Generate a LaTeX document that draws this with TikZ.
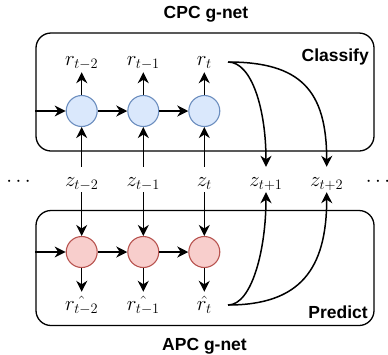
\documentclass[tikz,border=0pt]{standalone}
\usepackage{fontspec}
\setmainfont{Liberation Sans}
\usetikzlibrary{arrows.meta}
\definecolor{bluefill}{HTML}{DAE8FC}
\definecolor{bluedraw}{HTML}{6C8EBF}
\definecolor{redfill}{HTML}{F8CECC}
\definecolor{reddraw}{HTML}{B85450}
\begin{document}
\begin{tikzpicture}[x=1pt,y=-1pt,
  arr/.style={line width=1.5pt,-{Stealth[length=11pt,width=11pt,inset=3.5pt]}},
  bcell/.style={circle,draw=bluedraw,fill=bluefill,line width=1.1pt,minimum size=31pt,inner sep=0pt},
  rcell/.style={circle,draw=reddraw,fill=redfill,line width=1.1pt,minimum size=31pt,inner sep=0pt},
  gbox/.style={draw,line width=1.3pt,rounded corners=15pt,minimum width=338pt,inner sep=0pt},
  lbl/.style={inner sep=0pt,font=\fontsize{21}{24}\selectfont,anchor=base},
  rtop/.style={lbl,text height=11pt,text depth=7pt},
  zlab/.style={lbl,text height=19pt,text depth=6pt},
  rbot/.style={lbl,text height=18pt,text depth=8pt},
  ttl/.style={font=\fontsize{17.5}{20}\selectfont\bfseries,inner sep=0pt}
]
\useasboundingbox (0,0) rectangle (388,354);
% boxes
\node[gbox,minimum height=118pt] (cpc) at (205,92) {};
\node[gbox,minimum height=115pt] (apc) at (205,268) {};
% titles
\node[ttl,anchor=base] (tcpc) at (206,18.5) {CPC g-net};
\node[ttl,anchor=base] (tapc) at (204.5,350) {APC g-net};
\node[ttl,anchor=base east] (tcls) at (369,61) {Classify};
\node[ttl,anchor=base east] (tprd) at (368,318) {Predict};
% cells
\node[bcell] (b1) at (81.7,111) {};
\node[bcell] (b2) at (143.3,111) {};
\node[bcell] (b3) at (204.3,111) {};
\node[rcell] (p1) at (81.7,252) {};
\node[rcell] (p2) at (143.3,252) {};
\node[rcell] (p3) at (204.3,252) {};
% labels
\node[rtop] (r1) at (81.7,65) {$r_{t-2}$};
\node[rtop] (r2) at (143.3,65) {$r_{t-1}$};
\node[rtop] (r3) at (204.3,65) {$r_{t}$};
\node[zlab] (z1) at (81.7,186) {$z_{t-2}$};
\node[zlab] (z2) at (143.3,186) {$z_{t-1}$};
\node[zlab] (z3) at (204.3,186) {$z_{t}$};
\node[zlab] (z4) at (266,186) {$z_{t+1}$};
\node[zlab] (z5) at (326.7,186) {$z_{t+2}$};
\node[lbl] (dl) at (18.5,186) {$\cdots$};
\node[lbl] (dr) at (378,186) {$\cdots$};
\node[rbot] (h1) at (81.7,310) {$\hat{r_{t-2}}$};
\node[rbot] (h2) at (143.3,310) {$\hat{r_{t-1}}$};
\node[rbot] (h3) at (204.3,310) {$\hat{r_{t}}$};
% input coordinates
\coordinate (inT) at (cpc.west |- b1);
\coordinate (inB) at (apc.west |- p1);
\coordinate (rtout) at (228,62);
\coordinate (rhout) at (228,305);
% recurrent arrows
\draw[arr] (inT) -- (b1);
\draw[arr] (b1) -- (b2);
\draw[arr] (b2) -- (b3);
\draw[arr] (inB) -- (p1);
\draw[arr] (p1) -- (p2);
\draw[arr] (p2) -- (p3);
% vertical arrows
\foreach \i in {1,2,3}{
  \draw[arr] (z\i.north) -- (b\i.south);
  \draw[arr] (b\i.north) -- (r\i.south);
  \draw[arr] (z\i.south) -- (p\i.north);
  \draw[arr] (p\i.south) -- (h\i.north);
}
% curved arrows
\draw[arr] (rtout) .. controls +(24,0) and +(0,-57) .. (z4.north);
\draw[arr] (rtout) .. controls +(72,0) and +(0,-77) .. (z5.north);
\draw[arr] (rhout) .. controls +(24,0) and +(0,57) .. (z4.south);
\draw[arr] (rhout) .. controls +(72,0) and +(0,77) .. (z5.south);
\end{tikzpicture}
\end{document}
